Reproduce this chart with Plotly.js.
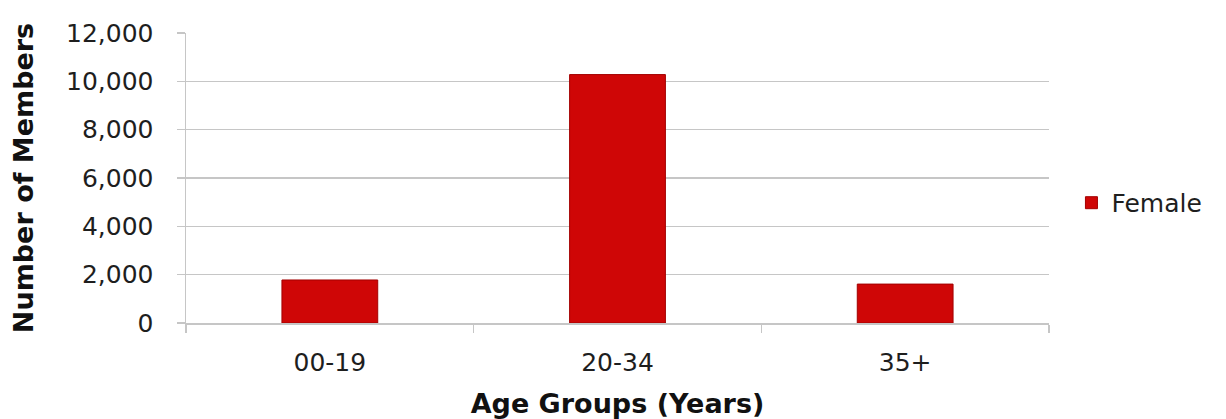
<!DOCTYPE html>
<html>
<head>
<meta charset="utf-8">
<script src="https://cdn.plot.ly/plotly-3.0.1.min.js"></script>
<style>
html,body{margin:0;padding:0;background:#fff;}
#chart{width:1226px;height:419px;}
</style>
</head>
<body>
<div id="chart"></div>
<script>
const categories = ["00-19", "20-34", "35+"];
const female = [1780, 10280, 1610];
const seriesName = "Female";
const yTickVals = [0, 2000, 4000, 6000, 8000, 10000, 12000];

const FONT = "DejaVu Sans, sans-serif";
const GRID = "#c6c6c6";
const TXT = "#1e1e1e";

const trace = {
  type: "bar",
  x: categories,
  y: female,
  name: seriesName,
  width: 0.333,
  marker: {
    color: "#cf0606",
    line: {color: "#a30000", width: 1}
  },
  showlegend: true
};

const layout = {
  width: 1226,
  height: 419,
  margin: {l: 186, r: 177, t: 33, b: 96},
  paper_bgcolor: "#ffffff",
  plot_bgcolor: "#ffffff",
  font: {family: FONT, color: TXT, size: 25},
  showlegend: true,
  legend: {
    x: 1.026, y: 0.414, xanchor: "left", yanchor: "middle",
    font: {family: FONT, size: 25, color: TXT},
    itemwidth: 30,
    bgcolor: "rgba(0,0,0,0)"
  },
  xaxis: {
    type: "category",
    tickson: "boundaries",
    ticks: "outside",
    ticklen: 8,
    tickcolor: GRID,
    tickwidth: 1.5,
    showline: true,
    linecolor: GRID,
    linewidth: 1.5,
    showgrid: false,
    tickfont: {family: FONT, size: 25, color: TXT},
    ticklabelstandoff: 16,
    title: {text: "Age Groups (Years)", font: {family: FONT, size: 27, color: "#111111", weight: "bold"}, standoff: 20}
  },
  yaxis: {
    range: [0, 12000],
    tickvals: yTickVals,
    tickformat: ",d",
    ticks: "outside",
    ticklen: 8,
    tickcolor: GRID,
    tickwidth: 1.5,
    showline: true,
    linecolor: GRID,
    linewidth: 1.5,
    showgrid: true,
    gridcolor: GRID,
    gridwidth: 1.5,
    zeroline: false,
    tickfont: {family: FONT, size: 25, color: TXT},
    ticklabelstandoff: 18,
    title: {text: "Number of Members", font: {family: FONT, size: 27, color: "#111111", weight: "bold"}, standoff: 24}
  }
};

Plotly.newPlot("chart", [trace], layout, {displayModeBar: false, staticPlot: true});
</script>
</body>
</html>
